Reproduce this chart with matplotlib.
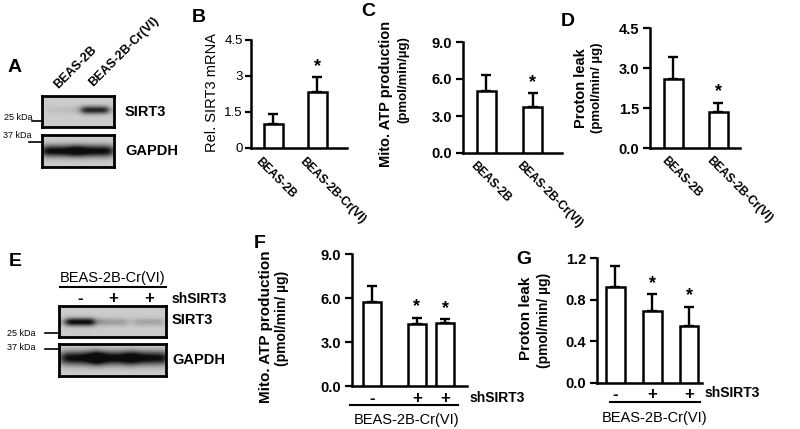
import matplotlib
matplotlib.use("Agg")
import matplotlib.pyplot as plt
import numpy as np

plt.rcParams["font.family"] = ["Liberation Sans", "DejaVu Sans"]

W, H = 800, 429

# ---- data ----
cells_b = ["BEAS-2B", "BEAS-2B-Cr(VI)"]
sirt3_mrna = [1.0, 2.35]
sirt3_mrna_err = [0.4, 0.6]

atp_c = [5.0, 3.75]
atp_c_err = [1.3, 1.1]

leak_d = [2.6, 1.35]
leak_d_err = [0.8, 0.35]

sh_labels = ["-", "+", "+"]
atp_f = [5.7, 4.2, 4.3]
atp_f_err = [1.1, 0.45, 0.25]

leak_g = [0.92, 0.69, 0.55]
leak_g_err = [0.2, 0.16, 0.18]

# band intensities (0 = no band, 1 = saturated)
blot_a_sirt3 = [0.06, 0.85]
blot_a_gapdh = [1.0, 1.0]
blot_e_sirt3 = [1.0, 0.22, 0.2]
blot_e_gapdh = [1.0, 1.0, 1.0]

fig = plt.figure(figsize=(W / 100, H / 100), dpi=100)


def add_ax(x0, y0, x1, y1):
    return fig.add_axes([x0 / W, 1 - y1 / H, (x1 - x0) / W, (y1 - y0) / H])


def ftext(x, y, s, **kw):
    fig.text(x / W, 1 - y / H, s, **kw)


def fline(x0, x1, y0, y1, lw=1.5):
    fig.add_artist(plt.Line2D([x0 / W, x1 / W], [1 - y0 / H, 1 - y1 / H],
                              color="black", lw=lw))


def draw_blot(box, lane_x, inten, band_y, band_h, band_w):
    ax = add_ax(*box)
    w = box[2] - box[0]
    h = box[3] - box[1]
    xx, yy = np.meshgrid(np.linspace(0, w, 240), np.linspace(0, h, 80))
    img = np.full(xx.shape, 0.8)
    for cx, v in zip(lane_x, inten):
        px = 1 / (1 + ((xx - cx) / (band_w / 2)) ** 6)
        py = np.exp(-((yy - band_y) / band_h) ** 2)
        img -= v * 0.78 * px * py
    img = np.clip(img, 0.05, 1)
    ax.imshow(img, cmap="gray", vmin=0, vmax=1, extent=(0, w, h, 0),
              aspect="auto", interpolation="bilinear")
    ax.set_xticks([])
    ax.set_yticks([])
    for sp in ax.spines.values():
        sp.set_linewidth(2)
    return ax


def bar_panel(box, pos, vals, errs, xlim, ylim, yticks, fmt, width,
              stars, tick_weight="bold", tick_size=10.5):
    ax = add_ax(*box)
    ax.bar(pos, vals, width, color="white", edgecolor="black",
           linewidth=1.8, zorder=3)
    ax.errorbar(pos, vals, yerr=[np.zeros(len(vals)), errs], fmt="none",
                ecolor="black", elinewidth=1.7, capsize=3.5, capthick=1.7,
                zorder=2)
    for i, s in enumerate(stars):
        if s:
            ax.text(pos[i], vals[i] + errs[i] + (ylim[1] - ylim[0]) * 0.02, "*",
                    ha="center", va="bottom", fontsize=13, fontweight="bold")
    ax.set_xlim(*xlim)
    ax.set_ylim(*ylim)
    ax.set_yticks(yticks)
    ax.set_yticklabels([fmt.format(t) for t in yticks],
                       fontsize=tick_size, fontweight=tick_weight)
    ax.set_xticks([])
    ax.spines["top"].set_visible(False)
    ax.spines["right"].set_visible(False)
    ax.spines["left"].set_linewidth(1.8)
    ax.spines["bottom"].set_linewidth(1.8)
    ax.tick_params(axis="y", length=5, width=1.6, pad=3)
    ax.patch.set_alpha(0)
    return ax


def rot_labels(ax, pos, labels, dx=-10, dy=-7):
    for p, lab in zip(pos, labels):
        ax.annotate(lab, xy=(p, 0), xycoords=("data", "axes fraction"),
                    xytext=(dx, dy), textcoords="offset pixels",
                    rotation=-45, rotation_mode="anchor", ha="left", va="top",
                    fontsize=8.5, fontweight="bold")


# ---- panel letters ----
for s, x, y in [("A", 15, 68), ("B", 199, 18), ("C", 368, 12), ("D", 568, 22),
                ("E", 15, 262), ("F", 260, 243), ("G", 524, 259)]:
    ftext(x, y, s, fontsize=14, fontweight="bold", ha="center", va="center")

# ---- panel A blot ----
draw_blot((42, 96, 114, 127), [18, 53], blot_a_sirt3, 14, 4, 28)
draw_blot((42, 135, 114, 167), [18, 53], blot_a_gapdh, 16, 6, 38)
ftext(60, 91, cells_b[0], rotation=45, rotation_mode="anchor", ha="left",
      va="bottom", fontsize=9, fontweight="bold")
ftext(95, 89, cells_b[1], rotation=45, rotation_mode="anchor", ha="left",
      va="bottom", fontsize=9, fontweight="bold")
ftext(125, 112, "SIRT3", fontsize=10.5, fontweight="bold", va="center")
ftext(125, 151, "GAPDH", fontsize=10.5, fontweight="bold", va="center")
ftext(4, 117, "25 kDa", fontsize=6.5, va="center")
fline(32, 42, 121, 121, lw=1.2)
ftext(3, 136, "37 kDa", fontsize=6.5, va="center")
fline(29, 42, 142, 142, lw=1.2)

# ---- panel B ----
ax = bar_panel((251, 40, 347, 148), [0, 1], sirt3_mrna, sirt3_mrna_err,
               (-0.51, 1.67), (0, 4.5), [0, 1.5, 3, 4.5], "{:g}", 0.43,
               [False, True], tick_weight="normal", tick_size=9.5)
ax.tick_params(axis="y", length=4, pad=2)
rot_labels(ax, [0, 1], cells_b, dx=-12, dy=-8)
ftext(212, 93, "Rel. SIRT3 mRNA", rotation=90, fontsize=10.5,
      ha="center", va="center")

# ---- panel C ----
ax = bar_panel((463, 42, 562, 153), [0, 1], atp_c, atp_c_err,
               (-0.51, 1.64), (0, 9), [0, 3, 6, 9], "{:.1f}", 0.41,
               [False, True])
rot_labels(ax, [0, 1], cells_b, dx=-10, dy=-7)
ftext(386, 94, "Mito. ATP production", rotation=90, fontsize=10.5,
      fontweight="bold", ha="center", va="center")
ftext(403, 80, "(pmol/min/µg)", rotation=90, fontsize=9.5,
      fontweight="bold", ha="center", va="center")

# ---- panel D ----
ax = bar_panel((650, 28, 740, 148), [0, 1], leak_d, leak_d_err,
               (-0.52, 1.48), (0, 4.5), [0, 1.5, 3, 4.5], "{:.1f}", 0.42,
               [False, True])
rot_labels(ax, [0, 1], cells_b, dx=-6, dy=-7)
ftext(581, 88, "Proton leak", rotation=90, fontsize=10.5,
      fontweight="bold", ha="center", va="center")
ftext(597, 88, "(pmol/min/ µg)", rotation=90, fontsize=9.5,
      fontweight="bold", ha="center", va="center")

# ---- panel E blot ----
ftext(113, 278, "BEAS-2B-Cr(VI)", fontsize=10.5, ha="center", va="center")
fline(60, 166, 287, 287)
for xl, s in zip([80, 113, 149], sh_labels):
    ftext(xl, 299, s, fontsize=12, fontweight="bold", ha="center", va="center")
ftext(172, 299, "shSIRT3", fontsize=10, fontweight="bold", va="center")
draw_blot((59, 306, 166, 337), [21, 54, 90], blot_e_sirt3, 16, 4, 30)
draw_blot((59, 344, 166, 376), [21, 54, 90], blot_e_gapdh, 14, 7, 40)
ftext(172, 320, "SIRT3", fontsize=10.5, fontweight="bold", va="center")
ftext(172, 360, "GAPDH", fontsize=10.5, fontweight="bold", va="center")
ftext(7, 333, "25 kDa", fontsize=6.5, va="center")
fline(45, 59, 333, 333, lw=1.2)
ftext(7, 348, "37 kDa", fontsize=6.5, va="center")
fline(45, 59, 349, 349, lw=1.2)

# ---- panel F ----
pos_f = [0, 1, 1.63]
ax = bar_panel((352, 254, 467, 386), pos_f, atp_f, atp_f_err,
               (-0.45, 2.12), (0, 9), [0, 3, 6, 9], "{:.1f}", 0.4,
               [False, True, True])
for p, s in zip(pos_f, sh_labels):
    ax.annotate(s, xy=(p, 0), xycoords=("data", "axes fraction"),
                xytext=(0, -12), textcoords="offset pixels", ha="center",
                va="center", fontsize=12, fontweight="bold")
ftext(470, 398, "shSIRT3", fontsize=10, fontweight="bold", va="center")
fline(350, 458, 405, 405)
ftext(407, 420, "BEAS-2B-Cr(VI)", fontsize=10.5, ha="center", va="center")
ftext(266, 327, "Mito. ATP production", rotation=90, fontsize=11,
      fontweight="bold", ha="center", va="center")
ftext(282, 318, "(pmol/min/ µg)", rotation=90, fontsize=10,
      fontweight="bold", ha="center", va="center")

# ---- panel G ----
pos_g = [0, 1, 2]
ax = bar_panel((597, 258, 702, 383), pos_g, leak_g, leak_g_err,
               (-0.5, 2.34), (0, 1.2), [0, 0.4, 0.8, 1.2], "{:.1f}", 0.49,
               [False, True, True])
for p, s in zip(pos_g, sh_labels):
    ax.annotate(s, xy=(p, 0), xycoords=("data", "axes fraction"),
                xytext=(0, -11), textcoords="offset pixels", ha="center",
                va="center", fontsize=12, fontweight="bold")
ftext(705, 393, "shSIRT3", fontsize=10, fontweight="bold", va="center")
fline(610, 700, 402, 402)
ftext(655, 418, "BEAS-2B-Cr(VI)", fontsize=10.5, ha="center", va="center")
ftext(526, 318, "Proton leak", rotation=90, fontsize=11,
      fontweight="bold", ha="center", va="center")
ftext(544, 320, "(pmol/min/ µg)", rotation=90, fontsize=10,
      fontweight="bold", ha="center", va="center")

fig.savefig("out.png", dpi=100)
